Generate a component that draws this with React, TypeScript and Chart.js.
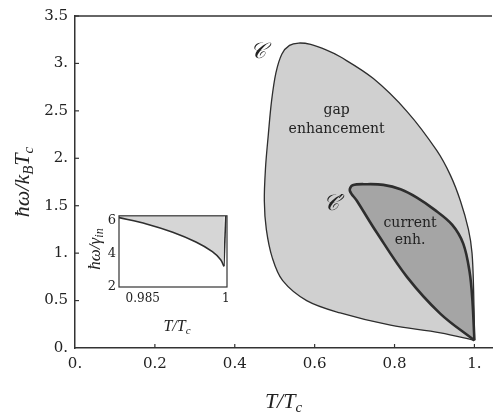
import { useEffect, useRef } from "react";
import { Chart, registerables } from "chart.js";

Chart.register(...registerables);

// ---- main chart data ----
const outerX = [1.0, 0.915, 0.79, 0.664, 0.58, 0.52, 0.494, 0.479, 0.474, 0.477, 0.484, 0.492, 0.503, 0.518, 0.537, 0.56, 0.59, 0.63, 0.664, 0.747, 0.832, 0.906, 0.94, 0.965, 0.985, 0.994, 0.998, 1.0];
const outerY = [0.08, 0.16, 0.24, 0.37, 0.5, 0.71, 0.95, 1.25, 1.55, 1.9, 2.25, 2.6, 2.9, 3.1, 3.19, 3.215, 3.2, 3.14, 3.07, 2.84, 2.49, 2.08, 1.82, 1.55, 1.25, 1.0, 0.6, 0.08];

const innerX = [1.0, 0.915, 0.831, 0.755, 0.706, 0.688, 0.695, 0.731, 0.772, 0.815, 0.856, 0.898, 0.944, 0.972, 0.988, 0.995, 1.0];
const innerY = [0.08, 0.36, 0.75, 1.22, 1.55, 1.66, 1.715, 1.727, 1.72, 1.674, 1.586, 1.464, 1.3, 1.1, 0.8, 0.5, 0.08];

const xTicks = [0, 0.2, 0.4, 0.6, 0.8, 1.0];
const xTickLabels = ["0.", "0.2", "0.4", "0.6", "0.8", "1."];
const yTicks = [0, 0.5, 1, 1.5, 2, 2.5, 3, 3.5];
const yTickLabels = ["0.", "0.5", "1.", "1.5", "2.", "2.5", "3.", "3.5"];

// annotation labels (data coordinates)
const regionLabels = [
  { text: "gap", x: 0.655, y: 2.5 },
  { text: "enhancement", x: 0.655, y: 2.31 },
  { text: "current", x: 0.839, y: 1.31 },
  { text: "enh.", x: 0.839, y: 1.13 },
];
const curveLabels = [
  { text: "𝒞", x: 0.458, y: 3.12 },
  { text: "𝒞′", x: 0.646, y: 1.52 },
];

// ---- inset data ----
const insetX = [0.98071, 0.98566, 0.99041, 0.99459, 0.99756, 0.99906, 0.99964];
const insetY = [6.19, 5.81, 5.31, 4.72, 4.14, 3.65, 3.25];
const insetEdgeX = [0.99964, 0.99998];
const insetEdgeY = [3.25, 6.3];
const insetXTicks = [0.985, 1];
const insetXTickLabels = ["0.985", "1"];
const insetYTicks = [2, 4, 6];
const insetYTickLabels = ["2", "4", "6"];

const SERIF = "'DejaVu Serif', serif";
const ITAL = "'Liberation Serif', 'DejaVu Serif', serif";
const AXIS = "#333333";

type Part = { t: string; sub?: boolean };

function drawRich(ctx: CanvasRenderingContext2D, parts: Part[], x: number, y: number, rotate: boolean, size: number) {
  ctx.save();
  ctx.translate(x, y);
  if (rotate) ctx.rotate(-Math.PI / 2);
  const main = `italic ${size}px ${ITAL}`;
  const sub = `italic ${Math.round(size * 0.7)}px ${ITAL}`;
  const widths = parts.map((p) => {
    ctx.font = p.sub ? sub : main;
    return ctx.measureText(p.t).width;
  });
  const total = widths.reduce((a, b) => a + b, 0);
  let cx = -total / 2;
  ctx.textAlign = "left";
  ctx.textBaseline = "alphabetic";
  ctx.fillStyle = "#222";
  parts.forEach((p, i) => {
    ctx.font = p.sub ? sub : main;
    ctx.fillText(p.t, cx, p.sub ? size * 0.35 + size * 0.2 : size * 0.35);
    cx += widths[i];
  });
  ctx.restore();
}

const toPts = (xs: number[], ys: number[]) => xs.map((x, i) => ({ x, y: ys[i] }));

export default function App() {
  const mainRef = useRef<HTMLCanvasElement>(null);
  const insetRef = useRef<HTMLCanvasElement>(null);

  useEffect(() => {
    const mainPlugin = {
      id: "mainDecor",
      afterDraw(chart: any) {
        const { ctx, chartArea, scales } = chart;
        const xs = scales.x;
        const ys = scales.y;
        ctx.save();
        ctx.strokeStyle = AXIS;
        ctx.lineWidth = 1.5;
        ctx.beginPath();
        ctx.moveTo(chartArea.left, chartArea.top);
        ctx.lineTo(chartArea.right, chartArea.top);
        ctx.stroke();
        ctx.lineWidth = 1.2;
        xTicks.forEach((v) => {
          if (v === 0) return;
          const px = xs.getPixelForValue(v);
          ctx.beginPath();
          ctx.moveTo(px, chartArea.bottom);
          ctx.lineTo(px, chartArea.bottom - 4);
          ctx.stroke();
        });
        yTicks.forEach((v) => {
          if (v === 0) return;
          const py = ys.getPixelForValue(v);
          ctx.beginPath();
          ctx.moveTo(chartArea.left, py);
          ctx.lineTo(chartArea.left + 4, py);
          ctx.stroke();
        });
        ctx.fillStyle = "#222";
        ctx.textAlign = "center";
        ctx.textBaseline = "middle";
        ctx.font = `14px ${SERIF}`;
        regionLabels.forEach((l) => {
          ctx.fillText(l.text, xs.getPixelForValue(l.x), ys.getPixelForValue(l.y));
        });
        ctx.font = `italic 22px ${SERIF}`;
        curveLabels.forEach((l) => {
          ctx.fillText(l.text, xs.getPixelForValue(l.x), ys.getPixelForValue(l.y));
        });
        ctx.restore();
        drawRich(ctx, [{ t: "T/T" }, { t: "c", sub: true }], (chartArea.left + chartArea.right) / 2, 400, false, 22);
        drawRich(ctx, [{ t: "ħω/k" }, { t: "B", sub: true }, { t: "T" }, { t: "c", sub: true }], 21, (chartArea.top + chartArea.bottom) / 2, true, 22);
      },
    };

    const main = new Chart(mainRef.current!, {
      type: "scatter",
      data: {
        datasets: [
          {
            data: toPts(innerX, innerY),
            showLine: true,
            fill: "shape",
            backgroundColor: "rgb(165,165,165)",
            borderColor: "#2e2e2e",
            borderWidth: 2.6,
            pointRadius: 0,
            tension: 0.35,
            order: 0,
          } as any,
          {
            data: toPts(outerX, outerY),
            showLine: true,
            fill: "shape",
            backgroundColor: "rgb(208,208,208)",
            borderColor: "#2e2e2e",
            borderWidth: 1.3,
            pointRadius: 0,
            tension: 0.35,
            order: 1,
          } as any,
        ],
      },
      options: {
        responsive: false,
        animation: false,
        devicePixelRatio: 1,
        layout: { padding: { top: 14, right: 1, left: 0, bottom: 0 } },
        plugins: { legend: { display: false }, tooltip: { enabled: false } },
        scales: {
          x: {
            type: "linear",
            min: 0,
            max: 1.044,
            afterBuildTicks: (s: any) => {
              s.ticks = xTicks.map((v) => ({ value: v }));
            },
            afterFit: (s: any) => {
              s.height = 64;
            },
            ticks: {
              callback: (v: any) => xTickLabels[xTicks.indexOf(Number(v))] ?? "",
              font: { family: SERIF, size: 15 },
              color: "#222",
              padding: 7,
              maxRotation: 0,
              autoSkip: false,
            },
            grid: { display: true, drawOnChartArea: false, drawTicks: false },
            border: { display: true, color: AXIS, width: 1.5 },
          },
          y: {
            type: "linear",
            min: 0,
            max: 3.5,
            afterBuildTicks: (s: any) => {
              s.ticks = yTicks.map((v) => ({ value: v }));
            },
            afterFit: (s: any) => {
              s.width = 75;
            },
            ticks: {
              callback: (v: any) => yTickLabels[yTicks.indexOf(Number(v))] ?? "",
              font: { family: SERIF, size: 15 },
              color: "#222",
              padding: 7,
              autoSkip: false,
            },
            grid: { display: true, drawOnChartArea: false, drawTicks: false },
            border: { display: true, color: AXIS, width: 1.5 },
          },
        },
      },
      plugins: [mainPlugin],
    });

    const insetPlugin = {
      id: "insetDecor",
      afterDraw(chart: any) {
        const { ctx, chartArea } = chart;
        ctx.save();
        ctx.strokeStyle = AXIS;
        ctx.lineWidth = 1.2;
        ctx.strokeRect(chartArea.left, chartArea.top, chartArea.right - chartArea.left, chartArea.bottom - chartArea.top);
        ctx.restore();
        drawRich(ctx, [{ t: "T/T" }, { t: "c", sub: true }], 97, 120, false, 16);
        drawRich(ctx, [{ t: "ħω/γ" }, { t: "in", sub: true }], 14, 44, true, 17);
      },
    };

    const inset = new Chart(insetRef.current!, {
      type: "scatter",
      data: {
        datasets: [
          {
            data: toPts(insetX, insetY),
            showLine: true,
            fill: "end",
            backgroundColor: "rgb(214,214,214)",
            borderColor: "#2e2e2e",
            borderWidth: 1.6,
            pointRadius: 0,
            tension: 0.3,
          } as any,
          {
            data: toPts(insetEdgeX, insetEdgeY),
            showLine: true,
            fill: false,
            borderColor: "#2e2e2e",
            borderWidth: 1.6,
            pointRadius: 0,
            tension: 0,
          } as any,
        ],
      },
      options: {
        responsive: false,
        animation: false,
        devicePixelRatio: 1,
        layout: { padding: { top: 10, right: 13, left: 0, bottom: 0 } },
        plugins: { legend: { display: false }, tooltip: { enabled: false } },
        scales: {
          x: {
            type: "linear",
            min: 0.98071,
            max: 1.0002,
            afterBuildTicks: (s: any) => {
              s.ticks = insetXTicks.map((v) => ({ value: v }));
            },
            afterFit: (s: any) => {
              s.height = 48;
            },
            ticks: {
              callback: (v: any) => insetXTickLabels[insetXTicks.indexOf(Number(v))] ?? "",
              font: { family: SERIF, size: 12 },
              color: "#222",
              padding: 5,
              maxRotation: 0,
              autoSkip: false,
            },
            grid: { display: false, drawTicks: false },
            border: { display: false },
          },
          y: {
            type: "linear",
            min: 2,
            max: 6.3,
            afterBuildTicks: (s: any) => {
              s.ticks = insetYTicks.map((v) => ({ value: v }));
            },
            afterFit: (s: any) => {
              s.width = 39;
            },
            ticks: {
              callback: (v: any) => insetYTickLabels[insetYTicks.indexOf(Number(v))] ?? "",
              font: { family: SERIF, size: 13 },
              color: "#222",
              padding: 3,
              autoSkip: false,
            },
            grid: { display: false, drawTicks: false },
            border: { display: false },
          },
        },
      },
      plugins: [insetPlugin],
    });

    return () => {
      main.destroy();
      inset.destroy();
    };
  }, []);

  return (
    <div style={{ position: "fixed", left: 0, top: 0, width: 493, height: 412, background: "#fff" }}>
      <canvas ref={mainRef} width={493} height={412} style={{ position: "absolute", left: 0, top: 0, display: "block" }} />
      <canvas ref={insetRef} width={160} height={130} style={{ position: "absolute", left: 80, top: 205, display: "block" }} />
    </div>
  );
}
